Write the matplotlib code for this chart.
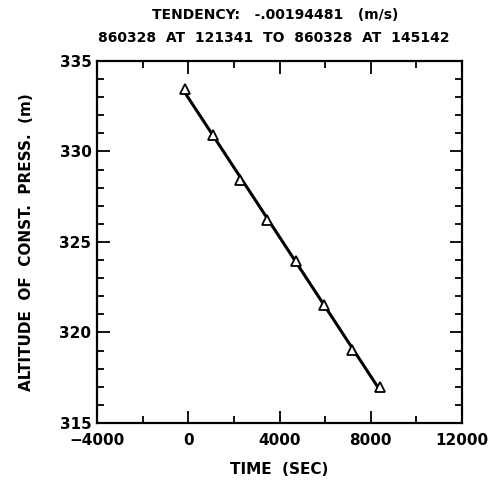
import numpy as np
import matplotlib
matplotlib.use("Agg")
import matplotlib.pyplot as plt
from matplotlib.ticker import MultipleLocator

time_s = [-140, 1070, 2270, 3440, 4710, 5960, 7170, 8410]
altitude_m = [333.45, 330.9, 328.45, 326.2, 323.97, 321.5, 319.03, 317.0]
title_line1 = "TENDENCY:   -.00194481   (m/s)"
title_line2 = "860328  AT  121341  TO  860328  AT  145142"
xlabel = "TIME  (SEC)"
ylabel = "ALTITUDE  OF  CONST.  PRESS.  (m)"

plt.rcParams['font.family'] = ['DejaVu Sans']
fig = plt.figure(figsize=(4.92, 4.86), dpi=100)
ax = fig.add_axes([97/492, 1-423/486, (462-97)/492, (423-61)/486])

t = np.array(time_s); a = np.array(altitude_m)
coef = np.polyfit(t, a, 1)
tl = np.array([t.min(), t.max()])
ax.plot(tl, np.polyval(coef, tl), color='black', lw=2.2, zorder=2)
ax.plot(t, a, linestyle='none', marker='^', markersize=7, markerfacecolor='white',
        markeredgecolor='black', markeredgewidth=1.3, zorder=3)

ax.set_xlim(-4000, 12000)
ax.set_ylim(315, 335)
ax.xaxis.set_major_locator(MultipleLocator(4000))
ax.xaxis.set_minor_locator(MultipleLocator(2000))
ax.yaxis.set_major_locator(MultipleLocator(5))
ax.yaxis.set_minor_locator(MultipleLocator(1))
ax.tick_params(which='both', direction='in', top=True, right=True, width=1.3, colors='black')
ax.tick_params(which='major', length=9, labelsize=11, pad=4)
ax.tick_params(axis='x', which='major', pad=7)
ax.tick_params(which='minor', length=5)
for s in ax.spines.values():
    s.set_linewidth(1.6)
for lab in ax.get_xticklabels() + ax.get_yticklabels():
    lab.set_fontweight('bold')

ax.set_xlabel(xlabel, fontsize=11, fontweight='bold', labelpad=10)
ax.set_ylabel(ylabel, fontsize=11, fontweight='bold', labelpad=18)

fig.text(275/492, 1-15/486, title_line1, ha='center', va='center', fontsize=10, fontweight='bold')
fig.text(274/492, 1-38/486, title_line2, ha='center', va='center', fontsize=10, fontweight='bold')

fig.savefig("out.png", dpi=100, facecolor='white')
